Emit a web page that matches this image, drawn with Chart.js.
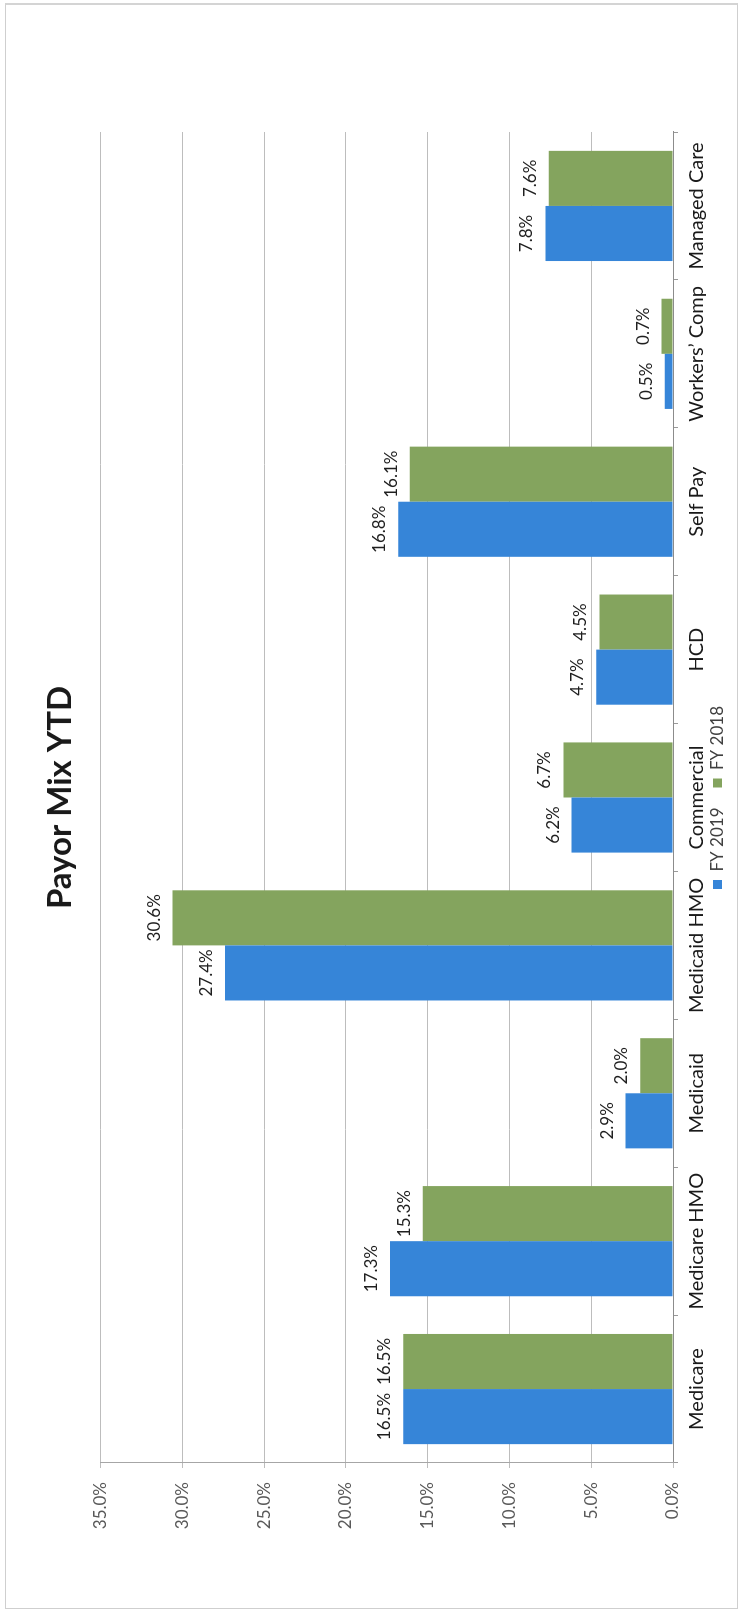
<!DOCTYPE html>
<html lang="en">
<head>
    <meta charset="UTF-8">
    <title>Payor Mix YTD</title>
    <script src="https://cdn.jsdelivr.net/npm/chart.js@4"></script>
    <style>
        html, body {
            margin: 0;
            padding: 0;
            width: 741px;
            height: 1612px;
            overflow: hidden;
            background: #fff;
        }
        .frame {
            position: absolute;
            left: 5px;
            top: 3px;
            width: 731px;
            height: 1603px;
            border: 1px solid #cfcfcf;
            border-top: 2px solid #d4d4d4;
        }
        /* the sheet is printed sideways: chart laid out landscape, turned a quarter left */
        .turned {
            position: absolute;
            left: 0;
            top: 0;
            width: 1612px;
            height: 741px;
            transform-origin: 0 0;
            transform: translateY(1612px) rotate(-90deg);
        }
    </style>
</head>
<body>
    <div class="frame"></div>
    <div class="turned">
        <canvas id="payorChart" width="1612" height="741"></canvas>
    </div>

    <script>
        const categories = ['Medicare', 'Medicare HMO', 'Medicaid', 'Medicaid HMO', 'Commercial',
            'HCD', 'Self Pay', 'Workers\u2019 Comp', 'Managed Care'];
        const fy2019 = [16.5, 17.3, 2.9, 27.4, 6.2, 4.7, 16.8, 0.5, 7.8];
        const fy2018 = [16.5, 15.3, 2.0, 30.6, 6.7, 4.5, 16.1, 0.7, 7.6];
        const yTicks = [0, 5, 10, 15, 20, 25, 30, 35];

        const blue = '#3685d8';
        const green = '#84a45e';
        const fontFamily = 'Lato, "Open Sans", sans-serif';

        const pct = v => v.toFixed(1) + '%';

        // value labels above each bar
        const barLabels = {
            id: 'barLabels',
            afterDatasetsDraw(chart) {
                const ctx = chart.ctx;
                ctx.save();
                ctx.font = '17px ' + fontFamily;
                ctx.fillStyle = '#1f1f1f';
                ctx.textAlign = 'center';
                ctx.textBaseline = 'alphabetic';
                chart.data.datasets.forEach((ds, i) => {
                    chart.getDatasetMeta(i).data.forEach((bar, j) => {
                        ctx.fillText(pct(ds.data[j]), bar.x, bar.y - 13);
                    });
                });
                ctx.restore();
            }
        };

        // title and legend centred over the plot area; legend tucked right under the category labels
        const centerBlocks = {
            id: 'centerBlocks',
            afterLayout(chart) {
                const { left, right, bottom } = chart.chartArea;
                [chart.titleBlock, chart.legend].forEach(box => {
                    if (!box) return;
                    box.left = left;
                    box.right = right;
                    box.width = right - left;
                });
                const lg = chart.legend;
                if (lg) {
                    lg.top = bottom + 16;
                    lg.height = 44;
                    lg.bottom = lg.top + lg.height;
                }
            }
        };

        const ctx = document.getElementById('payorChart').getContext('2d');
        new Chart(ctx, {
            type: 'bar',
            data: {
                labels: categories,
                datasets: [
                    { label: 'FY 2019', data: fy2019, backgroundColor: blue },
                    { label: 'FY 2018', data: fy2018, backgroundColor: green }
                ]
            },
            options: {
                responsive: false,
                animation: false,
                devicePixelRatio: 1,
                categoryPercentage: 0.745,
                barPercentage: 1.0,
                layout: { padding: { left: 0, right: 132, top: 0, bottom: 0 } },
                scales: {
                    x: {
                        grid: { drawOnChartArea: false, tickLength: 5, color: '#9a9a9a' },
                        border: { color: '#8c8c8c' },
                        ticks: {
                            color: '#1a1a1a',
                            font: { family: fontFamily, size: 20 },
                            padding: 7,
                            maxRotation: 0,
                            autoSkip: false
                        },
                        afterFit: scale => { scale.height = 41; }
                    },
                    y: {
                        min: 0,
                        max: 35,
                        afterBuildTicks: scale => {
                            scale.ticks = yTicks.map(v => ({ value: v }));
                        },
                        grid: { color: '#bdbdbd', tickLength: 5 },
                        border: { color: '#a6a6a6' },
                        ticks: {
                            color: '#595959',
                            font: { family: fontFamily, size: 17 },
                            padding: 14,
                            callback: v => pct(v)
                        },
                        afterFit: scale => { scale.width = 149; }
                    }
                },
                plugins: {
                    title: {
                        display: true,
                        text: 'Payor Mix YTD',
                        color: '#1a1a1a',
                        font: { family: fontFamily, size: 33, weight: 'bold' },
                        padding: { top: 41, bottom: 20 }
                    },
                    legend: {
                        position: 'bottom',
                        maxHeight: 27,
                        labels: {
                            color: '#404040',
                            font: { family: fontFamily, size: 17 },
                            boxWidth: 9,
                            boxHeight: 9,
                            padding: 20
                        }
                    },
                    tooltip: { enabled: false }
                }
            },
            plugins: [barLabels, centerBlocks]
        });
    </script>
</body>
</html>
